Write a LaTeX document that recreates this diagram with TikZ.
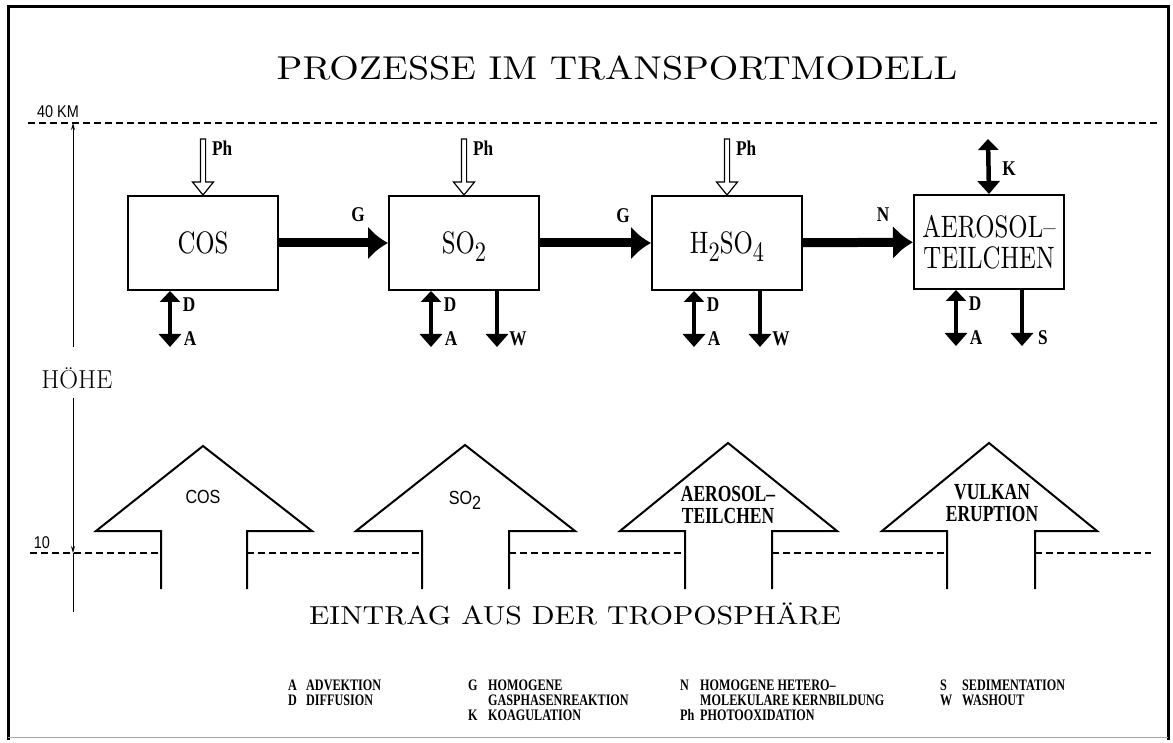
\documentclass[tikz,border=0pt]{standalone}
\usepackage{fontspec}
\usetikzlibrary{arrows.meta,positioning}
\newfontfamily\titlefont[FakeStretch=1.15]{lmroman10-regular.otf}
\newfontfamily\boxfont[FakeStretch=0.8]{lmroman10-regular.otf}
\newfontfamily\labfont[FakeStretch=0.82]{Liberation Serif}
\newfontfamily\legfont[FakeStretch=0.76]{Liberation Serif}
\newfontfamily\plotfont[FakeStretch=0.85]{Liberation Sans}

\tikzset{
  pharrow/.pic={\draw[line width=1.2pt,fill=white] (-2.6,-56) -- (-2.6,-13) -- (-10.5,-13)
     -- (0,0) -- (10.5,-13) -- (2.6,-13) -- (2.6,-56) -- cycle;}
}

\begin{document}
\begin{tikzpicture}[x=1pt,y=-1pt,
  stoff/.style={draw,line width=2pt,minimum width=150pt,minimum height=94pt,inner sep=2pt,
     align=center,font=\boxfont\fontsize{31}{35}\selectfont},
  flow/.style={line width=9pt,-{Latex[length=20pt,width=34pt]}},
  twoway/.style={line width=4.5pt,{Triangle[length=11pt,width=20pt]}-{Triangle[length=13pt,width=22pt]}},
  outflow/.style={line width=4.5pt,-{Triangle[length=13pt,width=22pt]}},
  lab/.style={font=\labfont\bfseries\fontsize{21}{23}\selectfont,inner sep=0pt},
  leg/.style={font=\legfont\bfseries\fontsize{16}{18}\selectfont,inner sep=0pt,anchor=base west,
     text height=11pt,text depth=1pt},
  ein/.style={line width=2pt,line join=miter},
  einlab/.style={font=\plotfont\fontsize{19}{21}\selectfont,inner sep=0pt},
  einlab2/.style={font=\legfont\bfseries\fontsize{23}{25}\selectfont,inner sep=0pt,align=center},
  lvl/.style={line width=1.4pt,dash pattern=on 7pt off 4pt}]
  \useasboundingbox (0,0) rectangle (1173,743);
  % frame
  \draw[line width=3pt] (8,740) -- (8,7) -- (1168,7) -- (1168,740);
  \draw[line width=1pt,black!35] (8,737) -- (1168,737);

  \node[font=\titlefont\fontsize{33}{36}\selectfont] (titel) at (617,68) {PROZESSE IM TRANSPORTMODELL};

  % height axis
  \node[font=\plotfont\fontsize{17}{19}\selectfont,inner sep=0pt] (km40) at (58,112) {40 KM};
  \draw[lvl] (28,123) -- (1160,123);
  \node[font=\fontsize{26}{30}\selectfont,inner sep=0pt] (hoehe) at (77,378) {HÖHE};
  \coordinate (ax1) at (73,347);
  \coordinate (ax2) at (73,123);
  \coordinate (ax3) at (73,398);
  \coordinate (ax4) at (73,553);
  \coordinate (ax5) at (73,612);
  \draw[line width=1pt,-{Stealth[length=7pt,width=4pt]}] (ax1) -- (ax2);
  \draw[line width=1pt,-{Stealth[length=7pt,width=4pt]}] (ax3) -- (ax4);
  \draw[line width=1pt] (ax4) -- (ax5);
  \node[font=\plotfont\fontsize{17}{19}\selectfont,inner sep=0pt] (km10) at (42,543) {10};

  % stratosphere boxes
  \node[stoff] (cos) at (203,243) {COS};
  \node[stoff,text depth=0pt] (so2) at (464,243) {SO\raisebox{-0.6ex}{\fontsize{28}{28}\selectfont 2}};
  \node[stoff,text depth=0pt] (hso) at (727,243) {H\raisebox{-0.6ex}{\fontsize{28}{28}\selectfont 2}SO\raisebox{-0.6ex}{\fontsize{28}{28}\selectfont 4}};
  \node[stoff] (aer) at (989,242) {AEROSOL–\\[-4pt]TEILCHEN};

  \draw[flow] (cos) -- (so2);
  \draw[flow] (so2) -- (hso);
  \draw[flow] (hso) -- (aer);
  \node[lab] (g1) at (358,215) {G};
  \node[lab] (g2) at (623,216) {G};
  \node[lab] (n1) at (883,215) {N};

  % photooxidation and coagulation
  \foreach \b in {cos,so2,hso}{
    \pic at (\b.north) {pharrow};
    \node[lab,anchor=west] at ([xshift=9pt,yshift=47pt]\b.north) {Ph};
  }
  \coordinate (ktop) at (988,139);
  \draw[twoway] (ktop) -- (aer.north);
  \node[lab] (k1) at (1009,169) {K};

  % diffusion / advection, washout, sedimentation
  \foreach \b in {cos,so2,hso,aer}{
    \coordinate (\b-d) at ([xshift=-33pt]\b.south);
    \path (\b-d) ++(0,56) coordinate (\b-a);
    \draw[twoway] (\b-d) -- (\b-a);
    \node[lab] at ([xshift=19pt,yshift=-14pt]\b-d) {D};
    \node[lab] at ([xshift=20pt,yshift=8pt]\b-a) {A};
  }
  \foreach \b/\t in {so2/W,hso/W,aer/S}{
    \coordinate (\b-o) at ([xshift=33pt]\b.south);
    \path (\b-o) ++(0,56) coordinate (\b-w);
    \draw[outflow] (\b-o) -- (\b-w);
    \node[lab] at ([xshift=21pt,yshift=8pt]\b-w) {\t};
  }

  % input from the troposphere
  \foreach \l/\sl/\m/\sr/\r/\t in {96/161/203/247/312/446, 356/422/465/509/575/445,
      620/685/728/772/837/443, 882/947/989/1035/1097/443}{
    \draw[ein] (\sl,589) -- (\sl,531) -- (\l,531) -- (\m,\t) -- (\r,531) -- (\sr,531) -- (\sr,589);
  }
  \draw[lvl] (30,553) -- (161,553);
  \draw[lvl] (247,553) -- (422,553);
  \draw[lvl] (509,553) -- (685,553);
  \draw[lvl] (772,553) -- (947,553);
  \draw[lvl] (1035,553) -- (1151,553);
  \node[einlab] (ecos) at (203,497) {COS};
  \node[einlab] (eso2) at (465,500) {SO\raisebox{-0.5ex}{2}};
  \node[einlab2] (eaer) at (728,505) {AEROSOL–\\[-3pt]TEILCHEN};
  \node[einlab2] (evul) at (992,503) {VULKAN\\[-3pt]ERUPTION};

  \node[font=\titlefont\fontsize{26}{30}\selectfont] (eintrag) at (575,614) {EINTRAG AUS DER TROPOSPHÄRE};

  % legend
  \foreach \x/\y/\t [count=\i] in {288/690/A, 288/705/D, 468/690/G, 468/720/K,
      680/690/N, 680/720/Ph, 940/690/S, 940/705/W}{
    \node[leg] (lk\i) at (\x,\y) {\t};
  }
  \foreach \x/\y/\t [count=\i] in {306/690/ADVEKTION, 306/705/DIFFUSION, 488/690/HOMOGENE,
      488/705/GASPHASENREAKTION, 488/720/KOAGULATION, 700/690/HOMOGENE HETERO–,
      700/705/MOLEKULARE KERNBILDUNG, 700/720/PHOTOOXIDATION, 962/690/SEDIMENTATION, 962/705/WASHOUT}{
    \node[leg] (lt\i) at (\x,\y) {\t};
  }
\end{tikzpicture}
\end{document}
